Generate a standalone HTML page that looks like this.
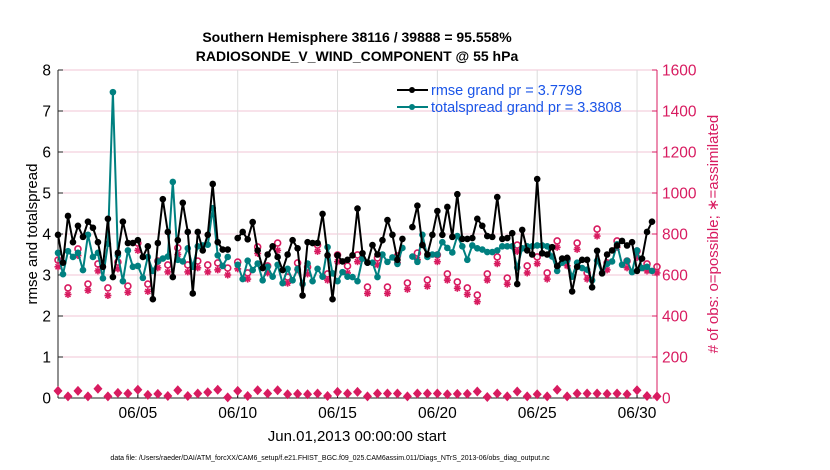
<!DOCTYPE html>
<html><head><meta charset="utf-8"><style>
body{margin:0;background:#fff;}
svg{display:block;font-family:"Liberation Sans",sans-serif;}
</style></head><body>
<svg id="chart" width="830" height="470" viewBox="0 0 830 470" xmlns="http://www.w3.org/2000/svg">
<g id="grid"></g>
<g id="axes"></g>
<g id="series"></g>
<text x="357" y="42" text-anchor="middle" font-size="14" font-weight="bold">Southern Hemisphere 38116 / 39888 = 95.558%</text>
<text x="357" y="61" text-anchor="middle" font-size="14" font-weight="bold">RADIOSONDE_V_WIND_COMPONENT @ 55 hPa</text>
<text transform="translate(37,234) rotate(-90)" text-anchor="middle" font-size="15">rmse and totalspread</text>
<text transform="translate(718,234) rotate(-90)" text-anchor="middle" font-size="15" fill="#d81b60"># of obs: o=possible; ∗=assimilated</text>
<text x="357" y="441" text-anchor="middle" font-size="15">Jun.01,2013 00:00:00 start</text>
<text x="330" y="460" text-anchor="middle" font-size="7">data file: /Users/raeder/DAI/ATM_forcXX/CAM6_setup/f.e21.FHIST_BGC.f09_025.CAM6assim.011/Diags_NTrS_2013-06/obs_diag_output.nc</text>
<g>
<g>
<line x1="397" y1="90" x2="428" y2="90" stroke="#000" stroke-width="2"/><circle cx="412" cy="90" r="3" fill="#000"/>
<text x="431" y="95" font-size="14.5" fill="#1a55e8">rmse grand pr = 3.7798</text></g>
<g>
<line x1="397" y1="107" x2="428" y2="107" stroke="#008080" stroke-width="2"/><circle cx="412" cy="107" r="3" fill="#008080"/>
<text x="431" y="112" font-size="14.5" fill="#1a55e8">totalspread grand pr = 3.3808</text></g>
</g>
</svg>
<script>
const rmse=[3.98,3.3,4.44,3.8,4.2,3.93,4.3,4.15,3.8,3.2,4.37,2.95,3.54,4.3,3.78,3.78,3.85,3.44,3.7,2.41,3.78,4.85,4.05,2.95,3.85,4.76,4.05,2.55,4.05,3.6,3.98,5.22,3.8,3.62,3.62,null,3.9,4.05,3.87,4.29,3.6,3.17,3.5,3.7,3.44,3.12,3.5,3.85,3.65,2.5,3.8,3.78,3.78,4.49,3.48,2.41,3.48,3.33,3.37,3.48,4.62,3.53,3.3,3.73,3.5,3.85,4.34,3.98,3.37,3.88,null,4.17,4.69,3.73,3.5,3.98,4.56,3.98,4.66,3.93,4.97,3.88,3.88,3.9,4.37,4.2,3.95,3.93,4.9,3.88,3.9,4.02,2.78,4.1,3.6,3.5,5.34,3.53,3.5,3.68,3.22,3.4,3.42,2.6,3.2,3.37,3.37,2.7,3.59,3.04,3.5,3.6,3.72,3.83,3.72,3.8,3.1,3.4,4.05,4.3];
const spread=[3.54,3.02,3.58,3.44,3.54,3.12,3.98,3.44,3.54,2.92,3.76,7.46,3.48,2.85,3.6,3.2,3.22,2.93,3.44,3.1,3.33,3.4,3.45,5.27,3.37,3.33,3.65,3.2,3.7,3.72,3.74,4.63,3.48,3.22,3.44,null,3.25,2.9,3.35,3.12,3.28,2.87,3.2,2.96,3.25,2.8,3.15,2.87,3.15,2.78,3.28,2.85,3.15,2.96,3.68,3.04,2.85,3.07,2.96,2.95,2.85,3.4,3.3,3.3,2.95,3.5,3.32,3.43,3.27,3.66,null,3.45,3.32,3.98,3.44,3.5,3.5,3.8,3.66,3.55,3.95,3.7,3.37,3.72,3.65,3.62,3.56,3.56,3.6,3.7,3.7,3.7,3.18,3.65,3.7,3.7,3.72,3.72,3.7,3.45,3.1,3.3,3.35,2.96,3.3,3.17,3.13,2.87,3.35,3.05,3.27,3.33,3.75,3.25,3.35,3.07,3.6,3.17,3.2,3.1];
const possible=[673,537,727,556,654,537,663,546,756,556,668,649,732,649,668,649,659,634,663,610,737,644,756,590,659,639,746,605,698,644,698,541,683,541,693,561,707,576,698,605,566,537,502,605,688,585,746,644,688,610,766,678,756,610,824,659,766,668,717,654,640];
const assimilated=[640,505,695,525,620,500,630,515,720,520,635,615,700,615,635,615,625,600,630,580,705,610,720,560,625,605,715,575,665,610,665,510,650,510,660,530,675,545,665,575,535,505,470,575,655,555,715,610,655,580,735,645,725,580,790,625,735,635,685,620,610];
const possibleLow=[35,8,35,8,45,8,25,22,40,15,20,10,38,10,22,28,40,3,35,10,38,22,38,18,20,18,22,10,30,22,30,8,22,22,22,8,22,22,22,18,20,20,32,5,22,8,32,8,18,8,40,8,22,22,22,20,22,18,38,10,8];
const leftTicks=[0,1,2,3,4,5,6,7,8];
const rightTicks=[0,200,400,600,800,1000,1200,1400,1600];
const dateTicks=[5,10,15,20,25,30];
const dateLabels=["06/05","06/10","06/15","06/20","06/25","06/30"];

const X0=58,X1=657,Y0=398,Y1=70;
const NS="http://www.w3.org/2000/svg";
const xDay=d=>X0+(d-1)*(X1-X0)/30;
const xIdx6=i=>xDay(1+i*0.25);
const xIdx12=j=>xDay(1+j*0.5);
const yL=v=>Y0-v*(Y0-Y1)/8;
const yR=v=>Y0-v*(Y0-Y1)/1600;
function mk(tag,attrs,parent){const e=document.createElementNS(NS,tag);for(const k in attrs)e.setAttribute(k,attrs[k]);parent.appendChild(e);return e;}
const grid=document.getElementById('grid'),axes=document.getElementById('axes'),ser=document.getElementById('series');

rightTicks.forEach(t=>{const l=mk('line',{x1:X0,x2:X1,y1:yR(t),y2:yR(t),stroke:'#f2c6d6','stroke-width':1},grid);

});
dateTicks.forEach((d,k)=>{const l=mk('line',{x1:xDay(d),x2:xDay(d),y1:Y1,y2:Y0,stroke:'#dcdcdc','stroke-width':1},grid);


const t=mk('text',{x:xDay(d),y:418,'text-anchor':'middle','font-size':15.5},axes);t.textContent=dateLabels[k];


mk('line',{x1:xDay(d),x2:xDay(d),y1:Y0,y2:Y0-5,stroke:'#000'},axes);});
mk('line',{x1:X0,x2:X0,y1:Y1,y2:Y0,stroke:'#222','stroke-width':1},axes);
mk('line',{x1:X0,x2:X1,y1:Y0,y2:Y0,stroke:'#222','stroke-width':1},axes);
mk('line',{x1:X1,x2:X1,y1:Y1,y2:Y0,stroke:'#d81b60','stroke-width':1},axes);
leftTicks.forEach(t=>{mk('line',{x1:X0,x2:X0+5,y1:yL(t),y2:yL(t),stroke:'#222'},axes);
const tx=mk('text',{x:X0-7,y:yL(t)+5.5,'text-anchor':'end','font-size':15.5},axes);tx.textContent=t;

});
rightTicks.forEach(t=>{mk('line',{x1:X1,x2:X1-5,y1:yR(t),y2:yR(t),stroke:'#d81b60'},axes);
const tx=mk('text',{x:X1+5,y:yR(t)+5.5,'font-size':15.5,fill:'#d81b60'},axes);tx.textContent=t;

});

function line(vals,xf,yf,color,name){
  const g=mk('g',{},ser);
  
  
  let d='',pen=false;
  vals.forEach((v,i)=>{if(v==null){pen=false;return;}d+=(pen?'L':'M')+xf(i).toFixed(1)+','+yf(v).toFixed(1);pen=true;});
  mk('path',{d:d,fill:'none',stroke:color,'stroke-width':2,'stroke-linejoin':'round'},g);
  vals.forEach((v,i)=>{if(v==null)return;mk('circle',{cx:xf(i),cy:yf(v),r:3.3,fill:color},g);});
}
function asterisks(vals,xf,yf,name){
  const g=mk('g',{stroke:'#d81b60','stroke-width':1.6},ser);
  
  
  vals.forEach((v,i)=>{const x=xf(i),y=yf(v),r=3.5;
    mk('line',{x1:x-r,x2:x+r,y1:y,y2:y},g);mk('line',{x1:x,x2:x,y1:y-r,y2:y+r},g);
    mk('line',{x1:x-2.5,x2:x+2.5,y1:y-2.5,y2:y+2.5},g);mk('line',{x1:x-2.5,x2:x+2.5,y1:y+2.5,y2:y-2.5},g);});
}
function rings(vals,xf,yf,name){
  const g=mk('g',{stroke:'#d81b60','stroke-width':1.6,fill:'none'},ser);
  
  
  vals.forEach((v,i)=>{mk('circle',{cx:xf(i),cy:yf(v),r:3},g);});
}
function diamonds(vals,xf,yf,name){
  const g=mk('g',{fill:'#d81b60'},ser);
  
  
  vals.forEach((v,i)=>{const x=xf(i),y=yf(v);mk('path',{d:`M${x},${y-5}L${x+4.5},${y}L${x},${y+5}L${x-4.5},${y}Z`},g);});
}
diamonds(possibleLow,xIdx12,yR,'obs-count-low-series');
asterisks(assimilated,xIdx12,yR,'assimilated-count-series');
rings(possible,xIdx12,yR,'possible-count-series');
line(spread,xIdx6,yL,'#008080','totalspread-series');
line(rmse,xIdx6,yL,'#000000','rmse-series');
</script>
</body></html>
